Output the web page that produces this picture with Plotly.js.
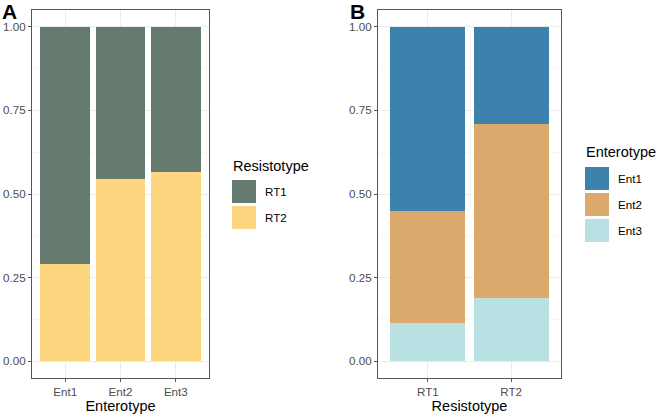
<!DOCTYPE html>
<html>
<head>
<meta charset="utf-8">
<script src="https://cdn.plot.ly/plotly-3.0.1.min.js"></script>
<style>
  body { margin: 0; background: #fff; }
  #fig { width: 657px; height: 415px; }
</style>
</head>
<body>
<div id="fig"></div>
<script>
// Panel A: resistotype share within each enterotype
const entCats = ["Ent1", "Ent2", "Ent3"];
const rtNames = ["RT1", "RT2"];
const rt1Share = [0.71, 0.455, 0.435];
const rt2Share = [0.29, 0.545, 0.565];
const rtColors = ["#667b6f", "#fcd77f"];

// Panel B: enterotype share within each resistotype
const rtCats = ["RT1", "RT2"];
const entNames = ["Ent1", "Ent2", "Ent3"];
const ent1Share = [0.551, 0.29];
const ent2Share = [0.336, 0.522];
const ent3Share = [0.113, 0.188];
const entColors = ["#3c82ad", "#dba96b", "#b9e1e3"];

const yTicks = [0, 0.25, 0.5, 0.75, 1];

const W = 657, H = 415;
const px = (x) => x / W;          // pixel -> paper x
const py = (y) => 1 - y / H;      // pixel -> paper y

// stack order as in ggplot: first level sits on top
const traces = [
  {type: "bar", x: entCats, y: rt2Share, name: rtNames[1],
   marker: {color: rtColors[1], line: {width: 0}}, xaxis: "x", yaxis: "y"},
  {type: "bar", x: entCats, y: rt1Share, name: rtNames[0],
   marker: {color: rtColors[0], line: {width: 0}}, xaxis: "x", yaxis: "y"},
  {type: "bar", x: rtCats, y: ent3Share, name: entNames[2],
   marker: {color: entColors[2], line: {width: 0}}, xaxis: "x2", yaxis: "y2"},
  {type: "bar", x: rtCats, y: ent2Share, name: entNames[1],
   marker: {color: entColors[1], line: {width: 0}}, xaxis: "x2", yaxis: "y2"},
  {type: "bar", x: rtCats, y: ent1Share, name: entNames[0],
   marker: {color: entColors[0], line: {width: 0}}, xaxis: "x2", yaxis: "y2"}
];
traces.forEach(t => { t.showlegend = false; t.hoverinfo = "skip"; });

const FAM = "Liberation Sans, Arial, sans-serif";
const tickFont = {family: FAM, size: 11.6, color: "#4d4d4d"};
const titleFont = {family: FAM, size: 14.5, color: "#000"};

function xAxis (dom, n, title, anchor) {
  return {domain: dom, anchor: anchor, range: [-0.6, n - 0.4],
          showgrid: true, gridcolor: "#ebebeb", gridwidth: 1,
          showline: true, mirror: true, linecolor: "#555", linewidth: 1,
          ticks: "outside", ticklen: 3, tickcolor: "#555", tickfont: tickFont,
          zeroline: false, fixedrange: true,
          title: {text: title, font: titleFont, standoff: 2}};
}
function yAxis (dom, anchor) {
  return {domain: dom, anchor: anchor, range: [-0.05, 1.05],
          tickvals: yTicks, tickformat: ".2f",
          showgrid: true, gridcolor: "#ebebeb", gridwidth: 1,
          minor: {dtick: 0.125, tick0: 0.125, showgrid: true, gridcolor: "#f3f3f3", gridwidth: 0.6},
          showline: true, mirror: true, linecolor: "#555", linewidth: 1,
          ticks: "outside", ticklen: 3, tickcolor: "#555", tickfont: tickFont,
          zeroline: false, fixedrange: true};
}

const yDom = [py(378), py(10)];

// hand-built legends (ggplot style square keys)
const shapes = [];
const annotations = [
  {text: "<b>A</b>", x: px(1), y: py(-1), xref: "paper", yref: "paper",
   xanchor: "left", yanchor: "top", showarrow: false, borderpad: 0,
   font: {family: FAM, size: 21, color: "#000"}},
  {text: "<b>B</b>", x: px(349), y: py(-1), xref: "paper", yref: "paper",
   xanchor: "left", yanchor: "top", showarrow: false, borderpad: 0,
   font: {family: FAM, size: 21, color: "#000"}}
];

function addLegend (title, names, colors, x0, titleY, keyTop) {
  annotations.push({text: title, x: px(x0 - 1), y: py(titleY), xref: "paper", yref: "paper",
    xanchor: "left", yanchor: "middle", showarrow: false,
    font: {family: FAM, size: 14.5, color: "#000"}});
  names.forEach((nm, i) => {
    const top = keyTop + i * 26;
    shapes.push({type: "rect", xref: "paper", yref: "paper",
      x0: px(x0), x1: px(x0 + 24), y0: py(top + 23), y1: py(top),
      fillcolor: colors[i], line: {width: 0}});
    annotations.push({text: nm, x: px(x0 + 31), y: py(top + 11.5), xref: "paper", yref: "paper",
      xanchor: "left", yanchor: "middle", showarrow: false,
      font: {family: FAM, size: 11.6, color: "#000"}});
  });
}
addLegend("Resistotype", rtNames, rtColors, 232, 166, 180);
addLegend("Enterotype", entNames, entColors, 585, 152, 167);

const layout = {
  width: W, height: H,
  margin: {l: 0, r: 0, t: 0, b: 0},
  paper_bgcolor: "#fff", plot_bgcolor: "#fff",
  barmode: "stack", bargap: 0.1,
  showlegend: false,
  xaxis: xAxis([px(32), px(209)], entCats.length, "Enterotype", "y"),
  yaxis: yAxis(yDom, "x"),
  xaxis2: xAxis([px(378), px(561)], rtCats.length, "Resistotype", "y2"),
  yaxis2: yAxis(yDom, "x2"),
  shapes: shapes,
  annotations: annotations
};

Plotly.newPlot("fig", traces, layout, {displayModeBar: false, staticPlot: true});
</script>
</body>
</html>
